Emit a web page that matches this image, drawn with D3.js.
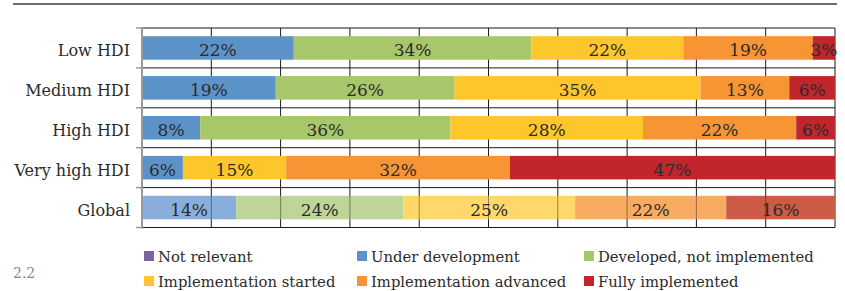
<!DOCTYPE html>
<html>
<head>
<meta charset="utf-8">
<script src="https://cdn.jsdelivr.net/npm/d3@7"></script>
<style>
  body { margin: 0; background: #fff; }
  svg text { font-family: "DejaVu Serif", serif; fill: #2b2b2b; }
</style>
</head>
<body>
<svg id="chart" width="845" height="291"></svg>
<script>
  // data (shares in %)
  const categories = ["Low HDI", "Medium HDI", "High HDI", "Very high HDI", "Global"];
  const seriesNames = ["Not relevant", "Under development", "Developed, not implemented",
                       "Implementation started", "Implementation advanced", "Fully implemented"];
  const notRelevant  = [0, 0, 0, 0, 0];
  const underDev     = [21.9, 19.3, 8.4, 5.9, 13.6];
  const developed    = [34.3, 25.8, 36.1, 0, 24.1];
  const started      = [21.9, 35.5, 27.8, 14.9, 24.8];
  const advanced     = [18.7, 12.8, 22.1, 32.3, 21.8];
  const fully        = [3.2, 6.6, 5.6, 46.9, 15.7];
  const labels = [
    ["", "22%", "34%", "22%", "19%", "3%"],
    ["", "19%", "26%", "35%", "13%", "6%"],
    ["", "8%", "36%", "28%", "22%", "6%"],
    ["", "6%", "", "15%", "32%", "47%"],
    ["", "14%", "24%", "25%", "22%", "16%"]
  ];
  const colors = ["#8062a0", "#5b93c9", "#a8c76b", "#fdc62a", "#f79535", "#c0262b"];
  const globalColors = ["#a692c0", "#8aaedb", "#bdd597", "#fed86a", "#f9ab62", "#cc5c46"];
  const xTicks = d3.range(0, 101, 10);

  const series = [notRelevant, underDev, developed, started, advanced, fully];

  const svg = d3.select("#chart");
  const plotL = 142, plotR = 835, plotT = 28, plotB = 227.5;

  const x = d3.scaleLinear().domain([0, 100]).range([plotL, plotR]);
  const pad = 0.41;
  const y = d3.scaleBand().domain(categories).range([plotT, plotB])
    .paddingInner(pad).paddingOuter(pad / 2);
  const step = y.step();

  // top rule
  svg.append("line").attr("x1", 13).attr("x2", 837).attr("y1", 4).attr("y2", 4)
    .attr("stroke", "#3a3a3a").attr("stroke-width", 1.6);

  // grid
  const grid = svg.append("g");
  grid.selectAll(".vg").data(xTicks.slice(1)).join("line")
    .attr("x1", d => x(d)).attr("x2", d => x(d)).attr("y1", plotT).attr("y2", plotB)
    .attr("stroke", "#1a1a1a").attr("stroke-width", 1);
  const bounds = categories.map(c => y(c) - step * pad / 2).concat([plotB]);
  grid.selectAll(".hg").data(bounds).join("line")
    .attr("x1", plotL).attr("x2", plotR).attr("y1", d => d).attr("y2", d => d)
    .attr("stroke", "#1a1a1a").attr("stroke-width", 1);

  // stacked bars
  const rows = categories.map((c, i) => {
    let acc = 0;
    return series.map((s, k) => {
      const seg = { cat: c, k, x0: acc, x1: acc + s[i], label: labels[i][k], global: c === "Global" };
      acc += s[i];
      return seg;
    });
  });
  const segs = rows.flat().filter(d => d.x1 > d.x0);

  const bars = svg.append("g");
  bars.selectAll("rect").data(segs).join("rect")
    .attr("x", d => x(d.x0)).attr("width", d => x(d.x1) - x(d.x0))
    .attr("y", d => y(d.cat)).attr("height", y.bandwidth())
    .attr("fill", d => d.global ? globalColors[d.k] : colors[d.k]);

  // gridlines show faintly through the Global bar
  svg.append("g").selectAll("line").data(xTicks.slice(1, -1)).join("line")
    .attr("x1", d => x(d)).attr("x2", d => x(d))
    .attr("y1", y("Global")).attr("y2", y("Global") + y.bandwidth())
    .attr("stroke", "#1a1a1a").attr("stroke-opacity", 0.45).attr("stroke-width", 1);

  bars.selectAll("text").data(segs.filter(d => d.label)).join("text")
    .attr("x", d => (x(d.x0) + x(d.x1)) / 2)
    .attr("y", d => y(d.cat) + y.bandwidth() / 2)
    .attr("dy", "0.47em")
    .attr("text-anchor", "middle")
    .attr("font-size", 17)
    .text(d => d.label);

  // left axis
  svg.append("line").attr("x1", plotL).attr("x2", plotL).attr("y1", plotT - 1).attr("y2", plotB + 1)
    .attr("stroke", "#9a9a9a").attr("stroke-width", 2);
  svg.append("g").selectAll("line").data(bounds).join("line")
    .attr("x1", plotL - 6).attr("x2", plotL).attr("y1", d => d).attr("y2", d => d)
    .attr("stroke", "#9a9a9a").attr("stroke-width", 1.5);
  svg.append("g").selectAll("text").data(categories).join("text")
    .attr("x", 130).attr("y", d => y(d) + y.bandwidth() / 2).attr("dy", "0.5em")
    .attr("text-anchor", "end").attr("font-size", 16)
    .text(d => d);

  // legend
  const legX = [144, 357, 584];
  const legY = [256, 281];
  const leg = svg.append("g").selectAll("g").data(seriesNames).join("g")
    .attr("transform", (d, i) => `translate(${legX[i % 3]},${legY[Math.floor(i / 3)]})`);
  leg.append("rect").attr("x", 0).attr("y", -5).attr("width", 10).attr("height", 10)
    .attr("fill", (d, i) => colors[i]);
  leg.append("text").attr("x", 14).attr("dy", "0.4em").attr("font-size", 14.8).text(d => d);

  svg.append("text").attr("x", 13).attr("y", 278).attr("font-size", 14)
    .style("fill", "#8a8a8a").text("2.2");
</script>
</body>
</html>
